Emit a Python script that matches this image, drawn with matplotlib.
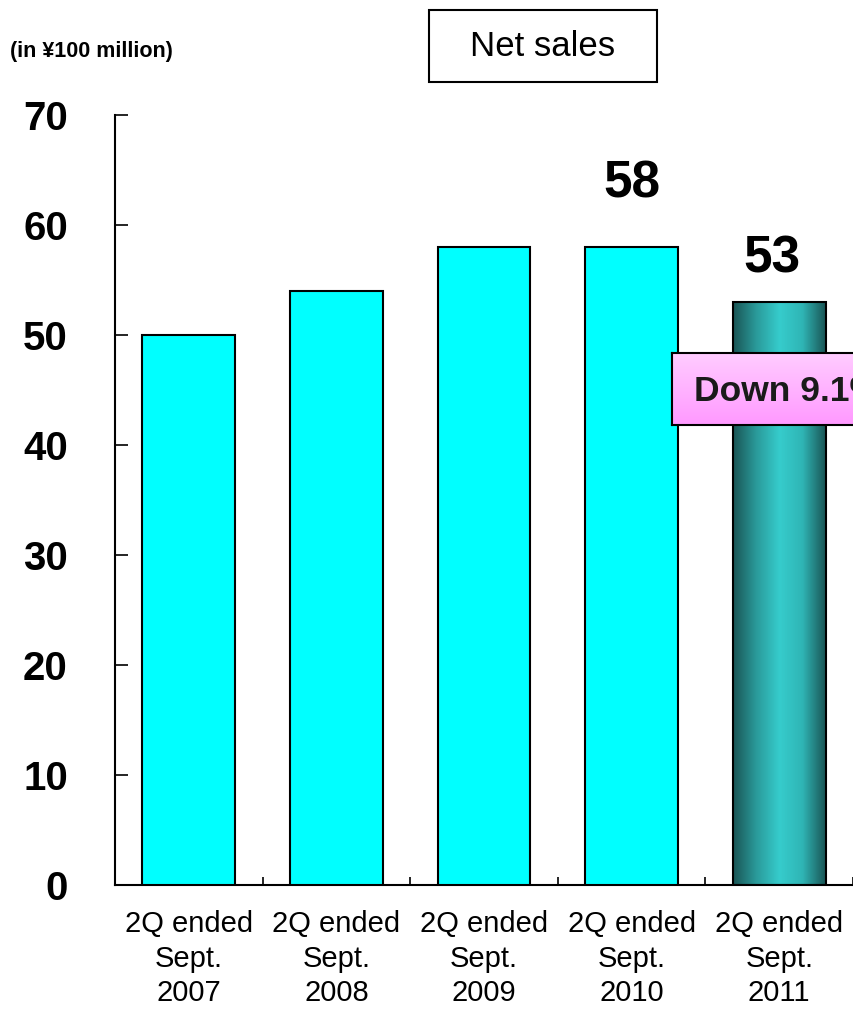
import numpy as np
import matplotlib.pyplot as plt
from matplotlib.colors import LinearSegmentedColormap
from matplotlib.patches import Rectangle

plt.rcParams['font.family'] = ['Liberation Sans', 'DejaVu Sans']

# Dades del gràfic
periodes = ['2Q ended\nSept.\n2007', '2Q ended\nSept.\n2008', '2Q ended\nSept.\n2009',
            '2Q ended\nSept.\n2010', '2Q ended\nSept.\n2011']
vendes = [50, 54, 58, 58, 53]
etiquetes = {3: '58', 4: '53'}          # índex de barra -> text
desplac = {3: (0.0, 4.5), 4: (-0.05, 2.7)}   # (dx, dy) del text sobre la barra
unitat = '(in ¥100 million)'
titol = 'Net sales'
variacio = 'Down 9.1%'

fig = plt.figure(figsize=(8.54, 10.17), dpi=100)
ax = fig.add_axes([115/854, 132/1017, 738/854, 770/1017])

x = np.arange(len(vendes))
w = 0.63
cols = ['#00ffff'] * (len(vendes) - 1) + ['none']
ax.bar(x, vendes, width=w, color=cols, edgecolor='black', linewidth=1.5, zorder=3)

# Barra de l'últim any amb degradat
teal = LinearSegmentedColormap.from_list('teal', ['#1a5555', '#2a9a9a', '#36cccc', '#2fb5b5', '#1a5555'])
grad = np.linspace(0, 1, 200).reshape(1, -1)
xl = x[-1]
ax.imshow(grad, cmap=teal, aspect='auto', extent=[xl - w/2, xl + w/2, 0, vendes[-1]], zorder=2)

for i, t in etiquetes.items():
    dx, dy = desplac[i]
    ax.text(x[i] + dx, vendes[i] + dy, t, ha='center', va='baseline',
            fontsize=37, fontweight='bold')

ax.set_xlim(-0.5, len(vendes) - 0.5)
ax.set_ylim(0, 70)
ax.set_yticks(np.arange(0, 71, 10))
ax.set_xticks(x)
ax.set_xticklabels(periodes, fontsize=21, linespacing=1.3)
ax.set_xticks(np.arange(-0.5, len(vendes)), minor=True)
ax.tick_params(axis='x', which='major', length=0, pad=18)
ax.tick_params(axis='x', which='minor', direction='in', length=6, width=1.2)
ax.tick_params(axis='y', direction='in', length=9, width=1.2, pad=34, labelsize=29)
for lab in ax.get_yticklabels():
    lab.set_fontweight('bold')
ax.spines['top'].set_visible(False)
ax.spines['right'].set_visible(False)
ax.spines['left'].set_linewidth(1.5)
ax.spines['bottom'].set_linewidth(1.5)

# Unitats i títol
fig.text(10/854, 1 - 52/1017, unitat, fontsize=15.5, fontweight='bold', va='center')
fig.patches.append(Rectangle((429/854, 1 - 82/1017), 228/854, 72/1017, transform=fig.transFigure,
                             facecolor='white', edgecolor='black', linewidth=1.5))
fig.text(543/854, 1 - 47/1017, titol, fontsize=25, ha='center', va='center')

# Requadre rosa amb la variació
bx = fig.add_axes([672/854, 1 - 425/1017, 220/854, 72/1017])
rosa = LinearSegmentedColormap.from_list('rosa', ['#ffccff', '#ff99ff'])
bx.imshow(np.linspace(0, 1, 100).reshape(-1, 1), cmap=rosa, aspect='auto', extent=[0, 1, 0, 1])
bx.set_xlim(0, 1)
bx.set_ylim(0, 1)
bx.set_xticks([])
bx.set_yticks([])
for s in bx.spines.values():
    s.set_linewidth(1.5)
bx.text(22/220, 0.47, variacio, fontsize=25.5, fontweight='bold', va='center', color='#1a1a1a')

fig.savefig('out.png', dpi=100)
